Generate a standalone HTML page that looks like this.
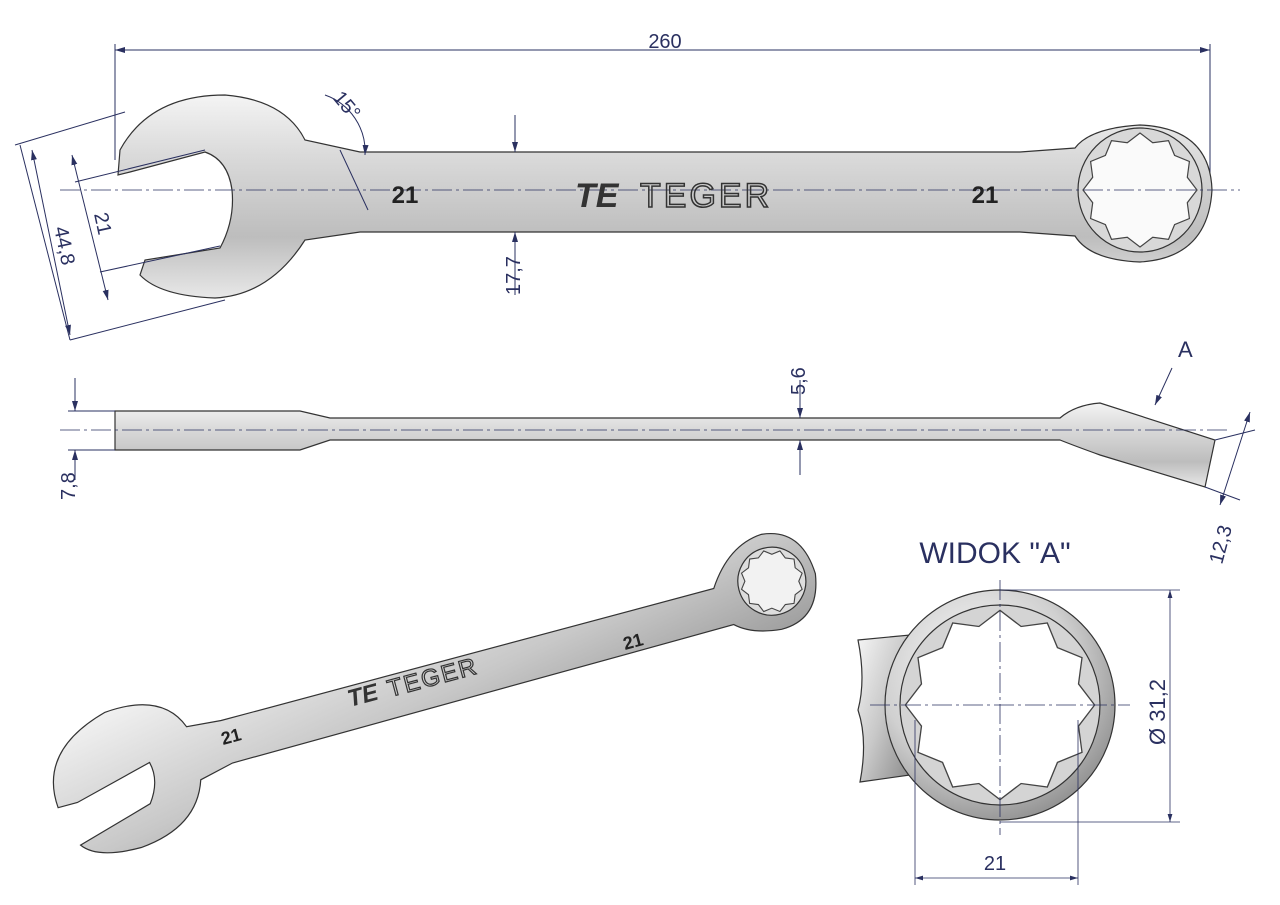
<!DOCTYPE html>
<html><head><meta charset="utf-8"><style>
html,body{margin:0;padding:0;background:#fff}
svg{display:block;font-family:"Liberation Sans",sans-serif}
</style></head><body>
<svg width="1280" height="905" viewBox="0 0 1280 905" xmlns="http://www.w3.org/2000/svg">
<defs>
<linearGradient id="gv" x1="0" y1="0" x2="0" y2="1">
<stop offset="0" stop-color="#f4f4f4"/><stop offset="0.3" stop-color="#dadada"/><stop offset="0.7" stop-color="#bdbdbd"/><stop offset="1" stop-color="#e8e8e8"/></linearGradient>
<linearGradient id="gh" x1="0" y1="0" x2="1" y2="1">
<stop offset="0" stop-color="#f5f5f5"/><stop offset="0.5" stop-color="#c8c8c8"/><stop offset="1" stop-color="#8a8a8a"/></linearGradient>
<radialGradient id="gr" cx="0.4" cy="0.35" r="0.7">
<stop offset="0" stop-color="#ffffff"/><stop offset="0.6" stop-color="#d0d0d0"/><stop offset="1" stop-color="#8e8e8e"/></radialGradient>
<marker id="a" markerWidth="10" markerHeight="6" refX="10" refY="3" orient="auto-start-reverse"><path d="M0,0 L10,3 L0,6 z" fill="#2a3060"/></marker>
<polygon id="star" points="1197,190 1187.3,202.7 1189.4,218.5 1174.6,224.6 1168.5,239.4 1152.7,237.3 1140,247 1127.3,237.3 1111.5,239.4 1105.4,224.6 1090.6,218.5 1092.7,202.7 1083,190 1092.7,177.3 1090.6,161.5 1105.4,155.4 1111.5,140.6 1127.3,142.7 1140,133 1152.7,142.7 1168.5,140.6 1174.6,155.4 1189.4,161.5 1187.3,177.3"/>
</defs>
<g stroke="#2a3060" stroke-width="1" fill="none">
<line x1="115" y1="50" x2="1210" y2="50" marker-start="url(#a)" marker-end="url(#a)"/>
<line x1="115" y1="44" x2="115" y2="160"/><line x1="1210" y1="44" x2="1210" y2="190"/>
</g>
<text x="665" y="48" font-size="20" fill="#2a3060" text-anchor="middle">260</text>

<g stroke="#333" stroke-width="1.2">
<path d="M118,175 L120,150 Q150,95 225,95 Q285,100 305,140 L360,152 L1020,152 L1075,148 Q1090,128 1140,125 Q1210,128 1212,190 Q1208,258 1140,262 Q1090,260 1075,236 L1020,232 L360,232 L305,240 Q270,295 215,298 Q160,296 140,275 L145,260 L220,248 Q235,220 232,190 Q228,160 205,152 L130,172 Z" fill="url(#gv)"/>
<circle cx="1140" cy="190" r="62" fill="#d8d8d8"/>
<use href="#star" fill="#fafafa" stroke="#444"/>
</g>
<line x1="60" y1="190" x2="1240" y2="190" stroke="#2a3060" stroke-width="0.8" stroke-dasharray="20 4 3 4"/>
<text x="405" y="203" font-size="24" font-weight="bold" fill="#222" text-anchor="middle">21</text>
<text x="985" y="203" font-size="24" font-weight="bold" fill="#222" text-anchor="middle">21</text>
<text x="575" y="207" font-size="34" font-weight="bold" font-style="italic" fill="#333">TE</text>
<text x="640" y="207" font-size="34" fill="none" stroke="#333" stroke-width="1.5" letter-spacing="3">TEGER</text>
<g stroke="#2a3060" stroke-width="1" fill="none">
<line x1="515" y1="115" x2="515" y2="152" marker-end="url(#a)"/><line x1="515" y1="295" x2="515" y2="232" marker-end="url(#a)"/>
<line x1="20" y1="145" x2="70" y2="340"/><line x1="15" y1="145" x2="125" y2="112"/><line x1="70" y1="340" x2="225" y2="300"/>
<line x1="32" y1="150" x2="70" y2="335" marker-start="url(#a)" marker-end="url(#a)"/>
<line x1="72" y1="155" x2="108" y2="300" marker-start="url(#a)" marker-end="url(#a)"/>
<line x1="75" y1="182" x2="205" y2="150"/><line x1="100" y1="272" x2="220" y2="246"/>
<path d="M325,95 A60,60 0 0 1 365,155" marker-end="url(#a)"/>
<line x1="340" y1="150" x2="368" y2="210"/>
</g>
<text x="94" y="214" font-size="20" fill="#2a3060" transform="rotate(78 94 214)">21</text>
<text x="54" y="228" font-size="20" fill="#2a3060" transform="rotate(78 54 228)">44,8</text>
<text x="332" y="98" font-size="20" fill="#2a3060" transform="rotate(50 332 98)">15°</text>
<text x="520" y="295" font-size="20" fill="#2a3060" transform="rotate(-90 520 295)">17,7</text>

<g stroke="#333" stroke-width="1.2">
<path d="M115,411 L300,411 L330,418 L1060,418 Q1075,405 1100,403 L1215,440 L1205,487 L1100,455 Q1075,446 1060,440 L330,440 L300,450 L115,450 Z" fill="url(#gv)"/>
</g>
<line x1="60" y1="430" x2="1230" y2="430" stroke="#2a3060" stroke-width="0.8" stroke-dasharray="20 4 3 4"/>
<g stroke="#2a3060" stroke-width="1" fill="none">
<line x1="68" y1="411" x2="115" y2="411"/><line x1="68" y1="450" x2="115" y2="450"/>
<line x1="75" y1="378" x2="75" y2="411" marker-end="url(#a)"/><line x1="75" y1="480" x2="75" y2="450" marker-end="url(#a)"/>
<line x1="800" y1="380" x2="800" y2="418" marker-end="url(#a)"/><line x1="800" y1="475" x2="800" y2="440" marker-end="url(#a)"/>
<line x1="1172" y1="368" x2="1155" y2="405" marker-end="url(#a)"/>
<line x1="1250" y1="412" x2="1220" y2="505" marker-start="url(#a)" marker-end="url(#a)"/>
<line x1="1215" y1="440" x2="1255" y2="430"/><line x1="1205" y1="487" x2="1240" y2="500"/>
</g>
<text x="805" y="395" font-size="20" fill="#2a3060" transform="rotate(-90 805 395)">5,6</text>
<text x="75" y="500" font-size="20" fill="#2a3060" transform="rotate(-90 75 500)">7,8</text>
<text x="1178" y="357" font-size="22" fill="#2a3060">A</text>
<text x="1222" y="565" font-size="20" fill="#2a3060" transform="rotate(-75 1222 565)">12,3</text>

<g transform="translate(420,690) rotate(-15)" stroke="#333" stroke-width="1.2">
<path d="M-380,20 Q-385,-40 -310,-60 Q-250,-65 -235,-25 L-200,-22 L310,-22 Q335,-60 370,-62 Q410,-58 412,-10 Q405,35 365,35 Q335,32 320,18 L-200,22 L-235,30 Q-250,75 -310,80 Q-355,80 -368,62 L-290,40 Q-275,20 -280,0 L-360,20 Z" fill="url(#gh)"/>
<circle cx="368" cy="-14" r="34" fill="#ddd"/>
<use href="#star" transform="translate(368,-14) scale(0.55) translate(-1140,-190)" fill="#f2f2f2" stroke="#444" stroke-width="2"/>
</g>
<text x="350" y="707" font-size="24" font-weight="bold" font-style="italic" fill="#333" transform="rotate(-15 350 707)">TE</text>
<text x="390" y="697" font-size="24" fill="none" stroke="#333" stroke-width="1.2" transform="rotate(-15 390 697)" letter-spacing="2">TEGER</text>
<text x="223" y="745" font-size="18" font-weight="bold" fill="#222" transform="rotate(-15 223 745)">21</text>
<text x="625" y="650" font-size="18" font-weight="bold" fill="#222" transform="rotate(-15 625 650)">21</text>

<text x="995" y="563" font-size="30" fill="#2a3060" text-anchor="middle">WIDOK "A"</text>
<g stroke="#333" stroke-width="1.2">
<path d="M858,640 L910,635 L910,775 L860,782 Q868,740 858,710 Q866,680 858,640 Z" fill="url(#gh)"/>
<circle cx="1000" cy="705" r="115" fill="url(#gr)"/>
<circle cx="1000" cy="705" r="100" fill="#d4d4d4"/>
<use href="#star" transform="translate(1000,705) scale(1.66) translate(-1140,-190)" fill="#fff" stroke="#444" stroke-width="0.8"/>
</g>
<g stroke="#2a3060" stroke-width="0.8" fill="none">
<line x1="870" y1="705" x2="1130" y2="705" stroke-dasharray="20 4 3 4"/>
<line x1="1000" y1="580" x2="1000" y2="835" stroke-dasharray="20 4 3 4"/>
<line x1="1000" y1="590" x2="1180" y2="590"/><line x1="1000" y1="822" x2="1180" y2="822"/>
<line x1="1170" y1="590" x2="1170" y2="822" marker-start="url(#a)" marker-end="url(#a)"/>
<line x1="915" y1="720" x2="915" y2="885"/><line x1="1078" y1="720" x2="1078" y2="885"/>
<line x1="915" y1="878" x2="1078" y2="878" marker-start="url(#a)" marker-end="url(#a)"/>
</g>
<text x="1165" y="745" font-size="22" fill="#2a3060" transform="rotate(-90 1165 745)">Ø 31,2</text>
<text x="995" y="870" font-size="20" fill="#2a3060" text-anchor="middle">21</text>
</svg>
</body></html>
